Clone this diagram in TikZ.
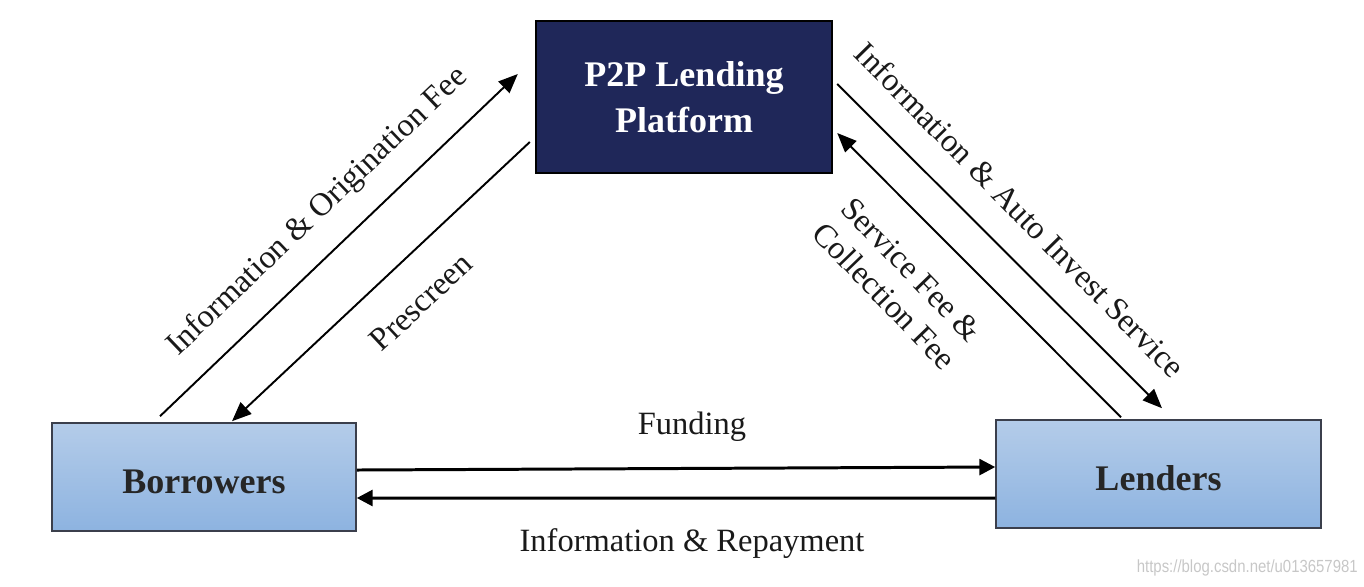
\documentclass[tikz,border=0pt]{standalone}
\usepackage{fontspec}
\setmainfont{Liberation Serif}
\setsansfont{Liberation Sans}
\usetikzlibrary{arrows.meta}

\definecolor{platnavy}{HTML}{1F2759}
\definecolor{boxtop}{HTML}{B4CCE9}
\definecolor{boxbot}{HTML}{8DB3E0}
\definecolor{boxline}{HTML}{3B3F4C}

\begin{document}
\begin{tikzpicture}[x=0.02cm,y=-0.02cm,
  party/.style={rectangle,draw=boxline,line width=0.9pt,top color=boxtop,bottom color=boxbot,
    minimum height=2.16cm,text height=19pt,font=\fontsize{20.5}{24}\selectfont\bfseries,text=black!85},
  flow/.style={line width=1.1pt,-{Triangle[length=11pt,width=9pt]}},
  cash/.style={line width=1.7pt,-{Triangle[length=9pt,width=9pt]}},
  lbl/.style={font=\fontsize{18.5}{21.5}\selectfont,text=black!90,inner sep=0pt}]

\useasboundingbox (0,0) rectangle (1364,586);

% Boxes
\node[rectangle,draw=black,line width=1.4pt,fill=platnavy,text=white,align=center,
  minimum width=5.92cm,minimum height=3.04cm,
  font=\fontsize{20.5}{26}\selectfont\bfseries] (plat) at (684,97) {P2P Lending\\Platform};
\node[party,minimum width=6.08cm] (borr) at (204,477) {Borrowers};
\node[party,minimum width=6.5cm] (lend) at (1158.5,474) {Lenders};

% Arrow end points
\coordinate (b1) at ([shift={(-44,-6)}]borr.north);
\coordinate (b2) at ([shift={(28,-1)}]borr.north);
\coordinate (p1) at ([shift={(-17,-23)}]plat.west);
\coordinate (p2) at ([shift={(-5,45)}]plat.west);
\coordinate (p3) at ([shift={(4,-13)}]plat.east);
\coordinate (p4) at ([shift={(4,36)}]plat.east);
\coordinate (l1) at ([shift={(3.5,-11)}]lend.north);
\coordinate (l2) at ([shift={(-37.5,-2)}]lend.north);

% Arrows
\draw[flow] (b1) -- (p1);
\draw[flow] (p2) -- (b2);
\draw[flow] (p3) -- (l1);
\draw[flow] (l2) -- (p4);
\draw[cash] ([yshift=0.14cm]borr.east) -- ([yshift=0.14cm]lend.west);
\draw[cash] ([yshift=-0.48cm]lend.west) -- ([yshift=-0.42cm]borr.east);

% Labels
\node[lbl,rotate=43.7] (origin) at (318,212) {Information \& Origination Fee};
\node[lbl,rotate=43] (prescr) at (421,302) {Prescreen};
\node[lbl,rotate=-45.5] (autoinv) at (1020,210) {Information \& Auto Invest Service};
\node[lbl,rotate=-46,align=center] (fees) at (898,283) {Service Fee \&\\Collection Fee};
\node[lbl] (fund) at (692,427) {Funding};
\node[lbl] (repay) at (692,544) {Information \& Repayment};

% Watermark
\node[font=\sffamily\fontsize{10}{12}\selectfont,text=black!22,xscale=0.85,anchor=east,inner sep=0pt]
  (mark) at (1358,568) {https://blog.csdn.net/u013657981};

\end{tikzpicture}
\end{document}
